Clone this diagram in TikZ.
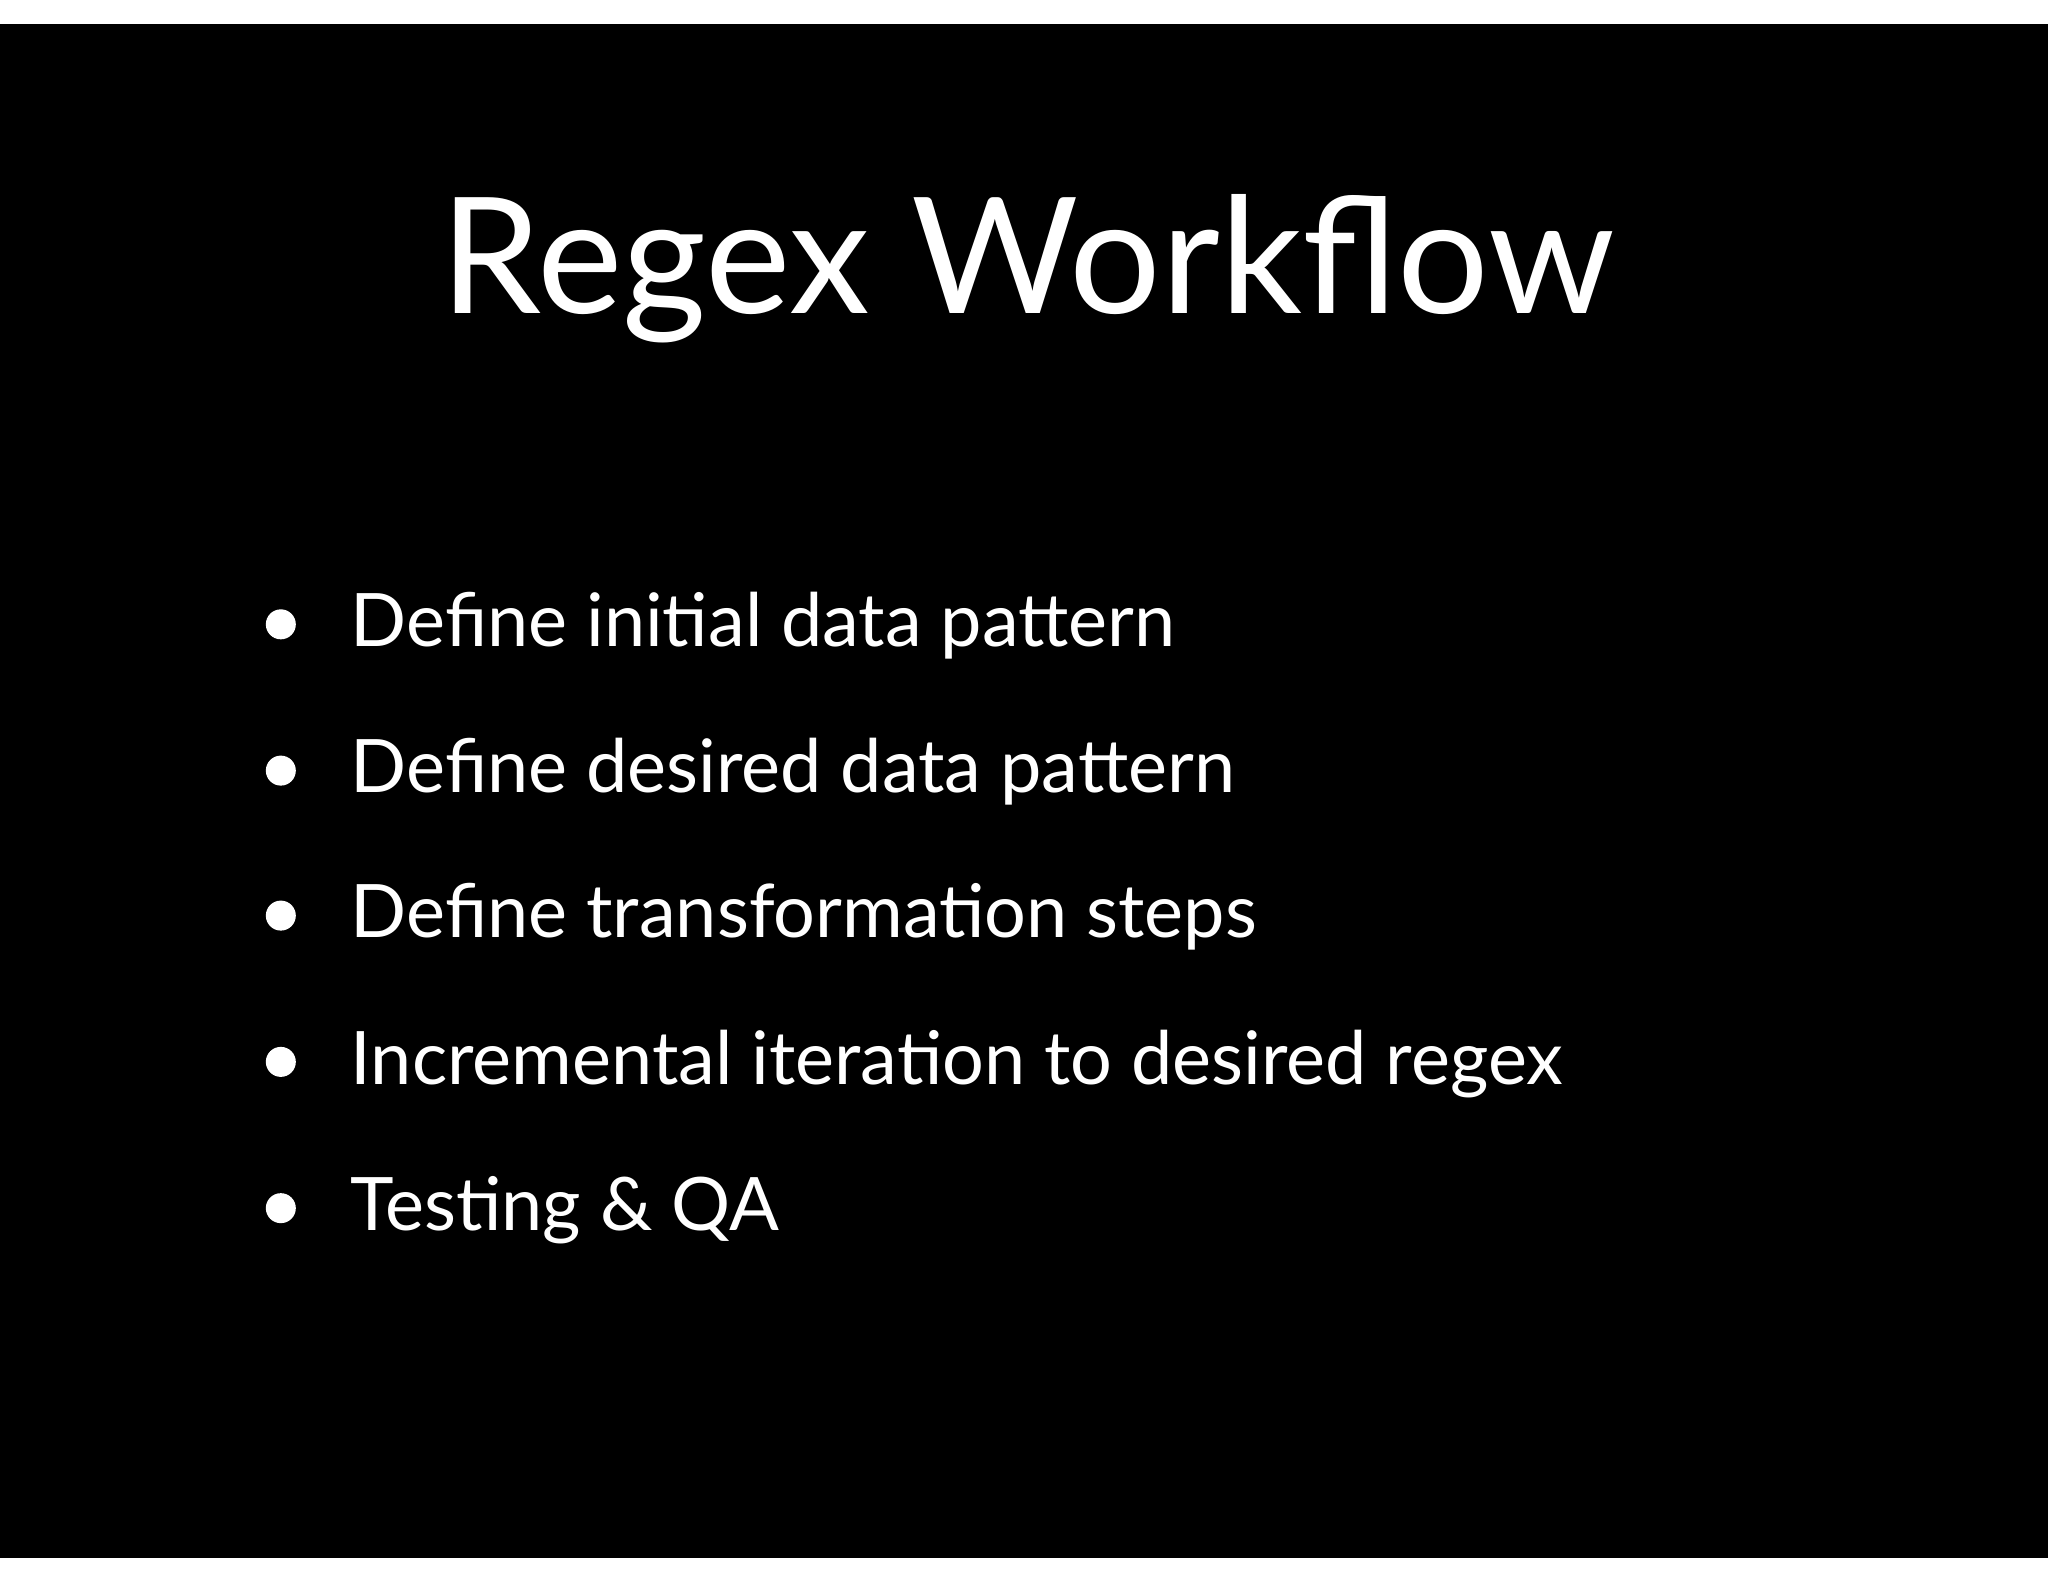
\documentclass[tikz,border=0pt]{standalone}
\usepackage{fontspec}
\setmainfont{Lato}
\begin{document}
\begin{tikzpicture}[x=0.0130612cm,y=-0.0130612cm,
  item/.style={anchor=base west,text=white,font=\fontsize{21}{25}\selectfont,inner sep=0pt},
  dot/.style={circle,fill=white,minimum size=0.3cm,inner sep=0pt}]
\useasboundingbox (0,0) rectangle (1568,1211);
\fill[white] (0,0) rectangle (1568,1211);
\fill[black] (0,18) rectangle (1568,1193);
\node[anchor=base,text=white,font=\fontsize{46}{50}\selectfont,inner sep=0pt] (title) at (787,240) {Regex Workflow};
\foreach \t/\y [count=\i] in {Define initial data pattern/495,Define desired data pattern/607,Define transformation steps/718,Incremental iteration to desired regex/830,Testing \& QA/942}{
  \node[dot] (d\i) at (215,\y-17) {};
  \node[item] (b\i) at (268,\y) {\t};
}
\end{tikzpicture}
\end{document}
